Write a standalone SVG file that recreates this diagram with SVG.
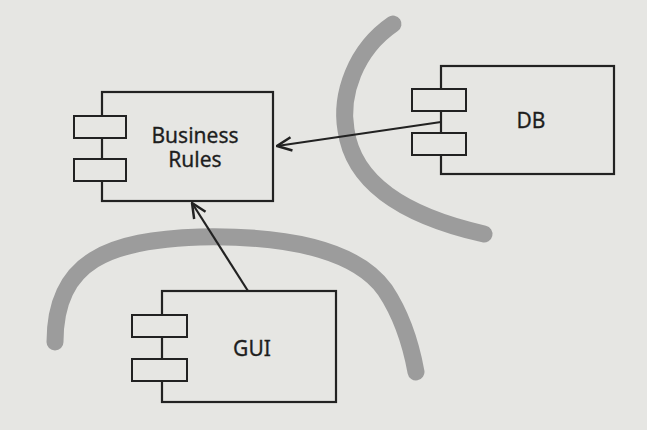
<svg xmlns="http://www.w3.org/2000/svg" width="647" height="430" viewBox="0 0 647 430">
<defs>
<style>
.box{fill:none;stroke:#222;stroke-width:2.2}
.port{fill:#e6e6e3;stroke:#222;stroke-width:2}
.lbl{font-family:"Noto Sans","Open Sans",sans-serif;font-size:21px;fill:#1e1e1e;text-anchor:middle;stroke:#1e1e1e;stroke-width:0.3}
.wall{fill:none;stroke:#9c9c9c;stroke-width:17;stroke-linecap:round}
.conn{fill:none;stroke:#222;stroke-width:2.2}
</style>
<marker id="arr" markerUnits="userSpaceOnUse" markerWidth="18" markerHeight="18" viewBox="0 0 16 16" refX="15" refY="8" orient="auto">
<path d="M2,2 L15,8 L2,14" fill="none" stroke="#222" stroke-width="2.2"/>
</marker>
</defs>
<rect width="647" height="430" fill="#e6e6e3"/>
<g id="boundaries">
<path class="wall" d="M393 24 C355 50 340 95 346 130 C353 180 400 215 484 234"/>
<path class="wall" d="M55 342 C55 260 110 240 200 237 C300 235 360 255 385 290 C405 320 412 350 416 372"/>
</g>
<g id="business-rules">
<rect class="box" x="102" y="92" width="171" height="109"/>
<rect class="port" x="74" y="116" width="52" height="22"/>
<rect class="port" x="74" y="159" width="52" height="22"/>
<text class="lbl" x="195" y="143"><tspan x="195">Business</tspan><tspan x="195" dy="24">Rules</tspan></text>
</g>
<g id="db">
<rect class="box" x="441" y="66" width="173" height="108"/>
<rect class="port" x="412" y="89" width="54" height="22"/>
<rect class="port" x="412" y="133" width="54" height="22"/>
<text class="lbl" x="531" y="128">DB</text>
</g>
<g id="gui">
<rect class="box" x="162" y="291" width="174" height="111"/>
<rect class="port" x="132" y="315" width="55" height="22"/>
<rect class="port" x="132" y="359" width="55" height="22"/>
<text class="lbl" x="252" y="356">GUI</text>
</g>
<g id="connectors">
<line class="conn" x1="441" y1="122" x2="277" y2="146" marker-end="url(#arr)"/>
<line class="conn" x1="248" y1="291" x2="192" y2="203" marker-end="url(#arr)"/>
</g>
</svg>
